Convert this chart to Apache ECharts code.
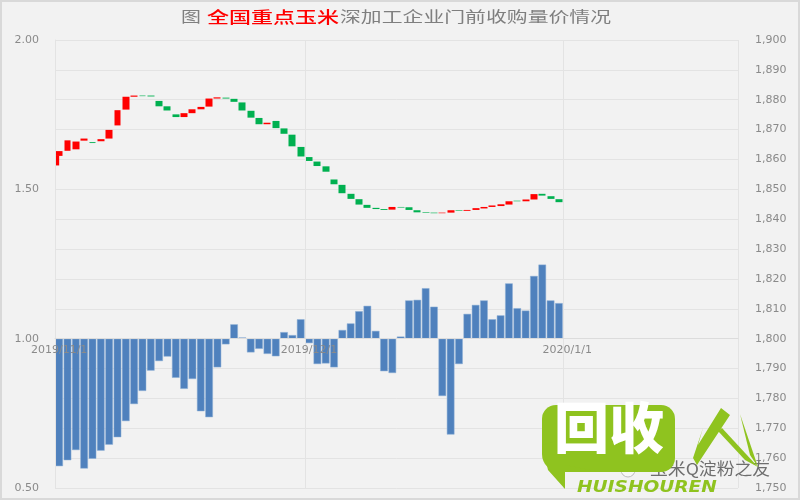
<!DOCTYPE html>
<html><head><meta charset="utf-8">
<script src="https://cdn.jsdelivr.net/npm/echarts@6/dist/echarts.min.js"></script>
<style>html,body{margin:0;padding:0;background:#f2f2f2}#c{width:800px;height:500px;filter:blur(0.45px)}</style>
</head><body><div id="c"></div>
<script>
const tickDates=['2019/11/1','2019/12/1','2020/1/1'];
const ratios=[0.573,0.593,0.627,0.565,0.598,0.625,0.645,0.670,0.724,0.781,0.825,0.893,0.925,0.940,0.869,0.832,0.865,0.757,0.737,0.904,0.981,1.048,1.004,0.954,0.966,0.949,0.941,1.022,1.012,1.065,0.985,0.915,0.917,0.904,1.029,1.051,1.092,1.110,1.026,0.891,0.885,1.007,1.128,1.130,1.169,1.107,0.808,0.679,0.915,1.083,1.113,1.128,1.065,1.078,1.185,1.102,1.094,1.210,1.248,1.128,1.119];
const opens=[1861.2,1862.9,1863.4,1866.3,1865.8,1866.1,1867,1871.4,1876.7,1881,1881.4,1881.4,1879.6,1877.8,1875.1,1874.2,1875.5,1876.8,1877.7,1880.4,1880.7,1880.3,1879.1,1876.3,1873.9,1871.8,1872.9,1870.4,1868.3,1864.2,1860.8,1859.3,1857.7,1853.3,1851.5,1848.5,1846.7,1844.8,1843.8,1843.4,1843.2,1844.1,1844,1843,1842.3,1842.2,1842,1842.2,1843,1842.8,1843.1,1843.6,1844.1,1844.4,1844.9,1846.2,1846,1846.6,1848.5,1847.7,1846.7];
const closes=[1862.8,1866.4,1866,1867,1865.5,1866.8,1869.9,1876.5,1881,1881.4,1881.2,1881.1,1877.8,1876.4,1874.2,1875.5,1876.8,1877.6,1880.4,1880.8,1880.4,1879.3,1876.4,1874,1871.8,1872.3,1870.5,1868.6,1864.4,1861,1859.5,1857.8,1855.9,1851.7,1848.7,1846.8,1844.9,1843.8,1843.4,1843.1,1844.1,1843.9,1843.1,1842.3,1842.1,1842,1842.2,1843,1842.8,1843.1,1843.7,1844.1,1844.6,1845,1846,1846,1846.6,1848.4,1847.9,1846.8,1845.7];
const firstHalfCandle=[0,1858,1861.4];
const totalDays=82;

const categories=[];
for(let i=0;i<totalDays;i++){
  const d=new Date(Date.UTC(2019,10,1+i));
  categories.push(d.getUTCFullYear()+'/'+(d.getUTCMonth()+1)+'/'+d.getUTCDate());
}
const isTick=(i,v)=>tickDates.includes(categories[i]);
const candles=opens.map((o,i)=>[o,closes[i],Math.min(o,closes[i]),Math.max(o,closes[i])]);
const RED='#ff0000',GREEN='#00b050',TXT='#8a8a8a',GRID='#e3e3e3';
const F='"DejaVu Sans",sans-serif', T='"Noto Sans CJK SC",sans-serif';
const chart=echarts.init(document.getElementById('c'));
chart.setOption({
  animation:false,
  backgroundColor:'#f2f2f2',
  grid:{left:55,right:62,top:40,bottom:12,outerBoundsMode:'none'},
  xAxis:{type:'category',data:categories,boundaryGap:true,z:5,zlevel:1,position:'bottom',offset:-149.3,
    axisLine:{onZero:false,lineStyle:{color:'#dcdcdc',width:1}},axisTick:{show:false},
    axisLabel:{interval:isTick,color:TXT,fontFamily:F,fontSize:11,margin:6,hideOverlap:false},
    splitLine:{show:true,interval:isTick,lineStyle:{color:GRID,width:1}}},
  yAxis:[
    {type:'value',min:-0.5,max:1,interval:0.5,
      axisLine:{show:true,onZero:false,lineStyle:{color:GRID}},axisTick:{show:false},splitLine:{show:false},
      axisLabel:{color:TXT,fontFamily:F,fontSize:11,margin:16,formatter:v=>(v+1).toFixed(2)}},
    {type:'value',min:1750,max:1900,interval:10,position:'right',
      axisLine:{show:false,onZero:false},axisTick:{show:false},splitLine:{show:true,lineStyle:{color:GRID,width:1}},
      axisLabel:{color:TXT,fontFamily:F,fontSize:11,margin:17,formatter:v=>v.toLocaleString('en-US')}}
  ],
  graphic:[
    {type:'rect',z:-1,shape:{x:1,y:1,width:798,height:498},style:{fill:'none',stroke:'#d9d9d9',lineWidth:2},silent:true},
    {type:'text',x:181,y:9,scaleX:1.33,z:10,style:{text:'图',fill:'#7f7f7f',font:'15px '+T}},
    {type:'text',x:207,y:9,scaleX:1.42,z:10,style:{text:'全国重点玉米',fill:'#ff0000',font:'500 15.5px '+T}},
    {type:'text',x:340,y:9,scaleX:1.39,z:10,style:{text:'深加工企业门前收购量价情况',fill:'#7f7f7f',font:'15px '+T}},
    {type:'text',x:650,y:460,zlevel:2,z:20,scaleX:1.08,style:{text:'玉米Q淀粉之友',fill:'#6e6e6e',font:'16.5px '+T}},
    {type:'circle',zlevel:2,z:20,shape:{cx:628,cy:470,r:7},style:{fill:'#f7f7f7',stroke:'#bbbbbb'}},
    {type:'rect',zlevel:2,z:30,shape:{x:542,y:405,width:133,height:67,r:[14,14,14,18]},style:{fill:'#8fc31f'}},
    {type:'polygon',zlevel:2,z:30,shape:{points:[[542,445],[548,470],[565,489],[565,465],[600,472],[560,440]]},style:{fill:'#8fc31f'}},
    {type:'text',x:554,y:400,zlevel:2,z:31,style:{text:'回收',fill:'#ffffff',font:'900 55px '+T}},
    {type:'text',x:577,y:480,zlevel:2,z:31,scaleX:1.16,style:{text:'HUISHOUREN',fill:'#8fc31f',font:'italic bold 16px "DejaVu Sans"'}},
    {type:'polygon',zlevel:2,z:31,shape:{points:[[721,408],[730,415],[697,465],[693,458],[703,428],[698,445]]},style:{fill:'#8fc31f'}},
    {type:'polygon',zlevel:2,z:31,shape:{points:[[718,431],[722,428],[758,467],[745,460]]},style:{fill:'#8fc31f'}},
    {type:'polygon',zlevel:2,z:31,shape:{points:[[740,414],[758,467],[750,455]]},style:{fill:'#8fc31f'}}
  ],
  series:[
    {type:'bar',name:'基差',xAxisIndex:0,yAxisIndex:0,data:ratios.map(r=>+(r-1).toFixed(3)),barWidth:7.6,z:2,
      itemStyle:{color:'#4f81bd',borderColor:'#8fb0d6',borderWidth:0.5}},
    {type:'candlestick',name:'价格',xAxisIndex:0,yAxisIndex:1,data:candles,barWidth:7.4,z:3,
      itemStyle:{color:RED,color0:GREEN,borderColor:RED,borderColor0:GREEN,borderWidth:0}},
    {type:'custom',name:'首日',xAxisIndex:0,yAxisIndex:1,z:3,clip:true,data:[firstHalfCandle],
      encode:{x:0,y:[1,2]},
      renderItem:(p,api)=>{
        const a=api.coord([api.value(0),api.value(2)]),b=api.coord([api.value(0),api.value(1)]);
        const w=api.size([1,0])[0];
        return {type:'rect',shape:{x:a[0]-w/2,y:a[1],width:w/2,height:b[1]-a[1]},style:{fill:RED}};
      }}
  ]
});
</script></body></html>
